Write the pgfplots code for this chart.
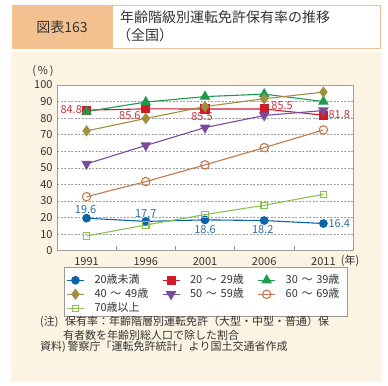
\documentclass[border=0pt]{standalone}
\usepackage{pgfplots}
\pgfplotsset{compat=1.18}
\usepackage{fontspec}
\setmainfont{Noto Sans CJK JP}
\definecolor{hdr}{HTML}{F3C190}
\definecolor{panel}{HTML}{FCF3E3}
\definecolor{txt}{HTML}{333333}
\definecolor{cBlue}{HTML}{0B63A8}
\definecolor{cRed}{HTML}{D31A28}
\definecolor{cRedT}{HTML}{C8323E}
\definecolor{cGreen}{HTML}{1F9A4C}
\definecolor{cOlive}{HTML}{A08F3E}
\definecolor{cPurple}{HTML}{784B9C}
\definecolor{cOrange}{HTML}{C2784C}
\definecolor{cLight}{HTML}{8DC150}
\definecolor{cBlueT}{HTML}{2F6FA8}
\begin{document}
\begin{tikzpicture}[x=1bp,y=1bp]
\fill[white] (0,0) rectangle (388,386);
% header
\fill[hdr] (12,337) rectangle (112,381);
\draw[hdr,line width=0.8bp,fill=white] (112,337.4) rectangle (380.6,380.6);
\node[txt,font=\fontsize{14bp}{16bp}\selectfont] at (62,359) {図表163};
\node[txt,anchor=west,inner sep=0,font=\fontsize{14bp}{16bp}\selectfont] at (120,369) {年齢階級別運転免許保有率の推移};
\node[txt,anchor=west,inner sep=0,font=\fontsize{14bp}{16bp}\selectfont] at (117,351) {（全国）};
% panel
\fill[panel] (11,4) rectangle (381,334);
% legend box
\draw[gray!80,fill=white,line width=0.7bp] (64,70) rectangle (347,119);
% notes
\node[txt,anchor=west,inner sep=0,font=\fontsize{11bp}{13bp}\selectfont] at (40,64.3) {(注)};
\node[txt,anchor=west,inner sep=0,font=\fontsize{11bp}{13bp}\selectfont] at (65,64.3) {保有率：年齢階層別運転免許（大型・中型・普通）保};
\node[txt,anchor=west,inner sep=0,font=\fontsize{11bp}{13bp}\selectfont] at (63,51) {有者数を年齢別総人口で除した割合};
\node[txt,anchor=west,inner sep=0,font=\fontsize{11bp}{13bp}\selectfont] at (40,38.7) {資料)\,警察庁「運転免許統計」より国土交通省作成};
% units
\node[txt,font=\fontsize{11bp}{13bp}\selectfont] at (43,315) {(\,\%\,)};
\node[txt,font=\fontsize{11bp}{13bp}\selectfont] at (350,125.5) {(年)};
\begin{axis}[
  at={(57bp,135.3bp)}, anchor=south west,
  scale only axis, width=296bp, height=165.7bp,
  xmin=1988.5, xmax=2013.5, ymin=0, ymax=100,
  xtick={1991,1996,2001,2006,2011},
  xticklabels={1991,1996,2001,2006,2011},
  minor xtick={1993.5,1998.5,2003.5,2008.5},
  ytick={0,10,...,100},
  xtick pos=bottom, ytick pos=left,
  tick align=inside,
  major tick length=0pt,
  minor tick length=4.5bp,
  minor tick style={gray!80, line width=0.6bp},
  axis line style={gray!75, line width=0.8bp},
  ymajorgrids,
  major grid style={gray!75, dash pattern=on 2bp off 1.5bp, line width=0.6bp},
  /pgf/number format/assume math mode=true,
  /pgf/number format/1000 sep={},
  ticklabel style={txt, font=\fontsize{11bp}{13bp}\selectfont},
  yticklabel style={xshift=-1bp},
  xticklabel style={yshift=-3bp},
  axis background/.style={fill=white},
  legend columns=3,
  legend cell align=left,
  legend style={at={(0.021,-0.123)}, anchor=north west, draw=none, fill=none,
    font=\fontsize{11bp}{13bp}\selectfont, text=txt,
    nodes={inner sep=1.5bp, text height=8.5bp, text depth=2.5bp, text width=60bp, align=left},
    /tikz/every odd column/.style={column sep=8.5bp},
    /tikz/every even column/.style={column sep=6bp}},
  every axis plot/.append style={line width=1.1bp},
  clip=false,
]
\addplot[cBlue, mark=*, mark size=3.8bp] coordinates {(1991,19.6)(1996,17.7)(2001,18.6)(2006,18.2)(2011,16.4)};
\addlegendentry{20歳未満}
\addplot[cRed, mark=square*, mark size=4bp] coordinates {(1991,84.8)(1996,85.6)(2001,85.5)(2006,85.5)(2011,81.8)};
\addlegendentry{20 ～ 29歳}
\addplot[cGreen, mark=triangle*, mark size=5bp] coordinates {(1991,84)(1996,89.7)(2001,93)(2006,94.5)(2011,90)};
\addlegendentry{30 ～ 39歳}
\addplot[cOlive, mark=diamond*, mark size=4.8bp] coordinates {(1991,72.3)(1996,79.8)(2001,87)(2006,91.7)(2011,95.7)};
\addlegendentry{40 ～ 49歳}
\addplot[cPurple, mark=triangle*, mark size=5bp, mark options={rotate=180}] coordinates {(1991,52.4)(1996,63.5)(2001,74.3)(2006,81.6)(2011,84.6)};
\addlegendentry{50 ～ 59歳}
\addplot[cOrange, mark=o, mark size=4.2bp, mark options={fill=white}] coordinates {(1991,32.6)(1996,41.7)(2001,51.8)(2006,62.2)(2011,72.9)};
\addlegendentry{60 ～ 69歳}
\addplot[cLight, mark=square, mark size=3.2bp, mark options={fill=white}] coordinates {(1991,8.9)(1996,15.5)(2001,21.8)(2006,27.4)(2011,34)};
\addlegendentry{70歳以上}
% data labels
\begin{scope}[every node/.style={font=\fontsize{11bp}{13bp}\selectfont, inner sep=1bp}]
\node[cRedT, anchor=east] at (axis cs:1991,84.8) [xshift=-3.5bp,yshift=1bp] {84.8};
\node[cRedT, anchor=north east] at (axis cs:1996,85.6) [xshift=-4bp,yshift=-1bp] {85.6};
\node[cRedT, anchor=north] at (axis cs:2001,85.5) [xshift=-3bp,yshift=-2bp] {85.5};
\node[cRedT, anchor=south west] at (axis cs:2006,85.5) [xshift=6bp,yshift=-2bp] {85.5};
\node[cRedT, anchor=west] at (axis cs:2011,81.8) [xshift=4bp,yshift=1bp] {81.8};
\node[cBlueT, anchor=south] at (axis cs:1991,19.6) [xshift=-1bp,yshift=3bp] {19.6};
\node[cBlueT, anchor=south] at (axis cs:1996,17.7) [yshift=3bp] {17.7};
\node[cBlueT, anchor=north] at (axis cs:2001,18.6) [yshift=-4bp] {18.6};
\node[cBlueT, anchor=north] at (axis cs:2006,18.2) [xshift=-1.5bp,yshift=-4bp] {18.2};
\node[cBlueT, anchor=west] at (axis cs:2011,16.4) [xshift=4bp] {16.4};
\end{scope}
\end{axis}
\end{tikzpicture}
\end{document}
